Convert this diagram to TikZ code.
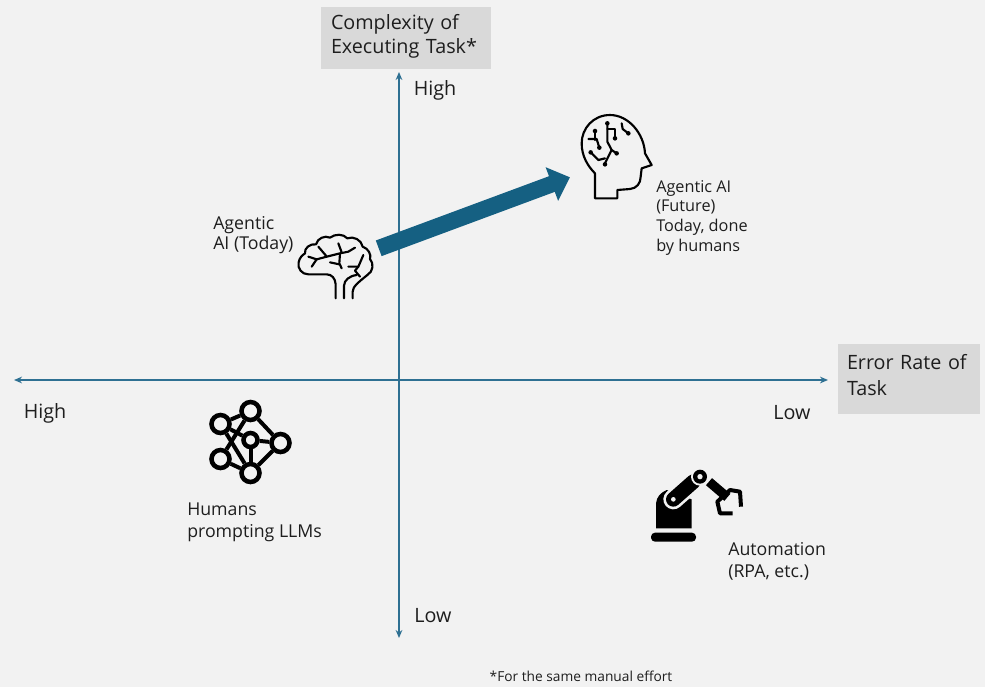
\documentclass[tikz,border=0pt]{standalone}
\usepackage{fontspec}
\setmainfont{Open Sans}
\usetikzlibrary{arrows.meta}
\definecolor{pagegrey}{RGB}{242,242,242}
\definecolor{labelgrey}{RGB}{217,217,217}
\definecolor{axisblue}{RGB}{46,112,146}
\definecolor{arrowblue}{RGB}{21,96,130}
\definecolor{textgrey}{RGB}{30,30,30}
\tikzset{
	axisline/.style={draw=axisblue, line width=1.5pt, {Stealth[length=6pt,width=5pt]}-{Stealth[length=6pt,width=5pt]}},
	axislabel/.style={fill=labelgrey, text=textgrey, align=left, inner sep=0pt},
	ticklabel/.style={text=textgrey, font=\fontsize{14.8}{16}\selectfont, inner sep=0pt},
	iconlabel/.style={text=textgrey, align=left, inner sep=0pt, anchor=north west},
	iconline/.style={line width=1.6pt, black, line cap=round, line join=round},
	tracedot/.style={circle, fill=black, inner sep=0pt, minimum size=3.4pt},
	netdot/.style={circle, draw=black, fill=pagegrey, line width=3.4pt, inner sep=0pt},
}
\begin{document}
\begin{tikzpicture}[x=0.75pt, y=-0.75pt]
	\useasboundingbox[fill=pagegrey] (0,0) rectangle (985,687);

	% axes
	\coordinate (axisLeft) at (14,380);
	\coordinate (axisRight) at (828,380);
	\coordinate (axisTop) at (399,72);
	\coordinate (axisBottom) at (399,638);
	\draw[axisline] (axisLeft) -- (axisRight);
	\draw[axisline] (axisTop) -- (axisBottom);

	% axis labels
	\node (complexityLabel) at (406,38) [axislabel, minimum width=127.5pt, minimum height=46.5pt, text width=112.5pt, font=\fontsize{14.8}{18}\selectfont] {Complexity of\\Executing Task*\rule[-6pt]{0pt}{1pt}};
	\node (errorLabel) at (909,379) [axislabel, minimum width=107pt, minimum height=52pt, text width=93pt, font=\fontsize{14.8}{19.5}\selectfont] {Error Rate of\\Task\rule[-6pt]{0pt}{1pt}};
	\node (yHigh) at (435,90) [ticklabel] {High};
	\node (yLow) at (433,616) [ticklabel] {Low};
	\node (xHigh) at (45,413) [ticklabel] {High};
	\node (xLow) at (792,413) [ticklabel] {Low};

	% icon labels
	\node (todayLabel) at (213,216) [iconlabel, font=\fontsize{13.3}{15.5}\selectfont] {Agentic\\AI (Today)};
	\node (futureLabel) at (656,180) [iconlabel, font=\fontsize{12.2}{14.8}\selectfont] {Agentic AI\\(Future)\\Today, done\\by humans};
	\node (humansLabel) at (187,503) [iconlabel, font=\fontsize{13.3}{16}\selectfont] {Humans\\prompting LLMs};
	\node (autoLabel) at (728,542) [iconlabel, font=\fontsize{13.3}{17}\selectfont] {Automation\\(RPA, etc.)};
	\node (noteLabel) at (581,676) [text=textgrey, inner sep=0pt, font=\fontsize{10.3}{12}\selectfont] {*For the same manual effort};

	% brain
	\begin{scope}[shift={(290,225)}, scale=1/3]
		\draw[iconline] (137,220) -- (137,178) .. controls (136,160) and (125,148) .. (110,148)
			-- (55,148) .. controls (35,148) and (22,130) .. (26,112)
			.. controls (28,98) and (38,90) .. (45,85) .. controls (42,70) and (60,55) .. (78,58)
			.. controls (82,40) and (105,30) .. (120,38) .. controls (135,26) and (160,26) .. (172,40)
			.. controls (190,32) and (215,45) .. (218,65) .. controls (235,70) and (245,90) .. (240,102)
			.. controls (252,115) and (250,140) .. (232,150);
		\draw[iconline] (162,220) -- (162,182) .. controls (163,165) and (178,153) .. (200,150);
		\draw[iconline] (188,220) -- (188,200) .. controls (188,185) and (205,172) .. (232,150);
		\draw[iconline] (55,95) -- (80,103) -- (110,95) -- (150,85) -- (175,80) -- (195,68);
		\draw[iconline] (85,65) -- (108,92);
		\draw[iconline] (65,125) -- (80,103);
		\draw[iconline] (145,55) -- (155,82);
		\draw[iconline] (150,85) -- (148,115) -- (155,130);
		\draw[iconline] (120,112) -- (148,118);
		\draw[iconline] (175,125) -- (205,125) -- (220,90);
		\draw[iconline] (205,125) -- (195,137) -- (210,155);
	\end{scope}

	% head with circuit
	\begin{scope}[shift={(570,105)}, scale=1/3]
		\draw[iconline] (75,205) -- (75,280) -- (142,280) -- (142,255) -- (180,252)
			.. controls (200,250) and (212,235) .. (212,215) -- (215,190) -- (245,180)
			-- (225,145) .. controls (222,85) and (175,30) .. (120,30)
			.. controls (70,30) and (35,70) .. (35,115) .. controls (35,155) and (55,185) .. (75,205);
		\draw[iconline] (75,75) -- (75,105);
		\draw[iconline] (55,102) -- (80,102) -- (88,128);
		\draw[iconline] (112,55) -- (112,110) -- (125,135) -- (140,145);
		\draw[iconline] (112,72) -- (135,72) -- (135,100);
		\draw[iconline] (125,135) -- (105,175);
		\draw[iconline] (62,142) -- (85,165) -- (105,160);
		\draw[iconline] (155,55) -- (158,72) -- (175,85);
		\foreach \dotx/\doty in {75/78, 88/128, 112/55, 135/100, 140/145, 105/178, 62/142, 175/85}
			\node at (\dotx,\doty) [tracedot] {};
	\end{scope}

	% move to the future
	\coordinate (brainEnd) at (378.7,248.3);
	\coordinate (headEnd) at (570,177.3);
	\draw[arrowblue, line width=12.5pt, -{Triangle[length=14.5pt,width=26pt]}] (brainEnd) -- (headEnd);

	% network
	\node (netA) at (220.5,424) [netdot, minimum size=13.5pt] {};
	\node (netB) at (250.5,411) [netdot, minimum size=13.5pt] {};
	\node (netC) at (280.5,443) [netdot, minimum size=13.5pt] {};
	\node (netD) at (250.5,473) [netdot, minimum size=13.5pt] {};
	\node (netE) at (220.5,459) [netdot, minimum size=13.5pt] {};
	\node (netF) at (250.5,440) [netdot, minimum size=10.5pt] {};
	\foreach \from/\to in {netA/netB, netB/netC, netC/netD, netD/netE, netA/netD, netB/netE, netF/netD, netF/netC, netA/netF}
		\draw[black, line width=3pt] (\from) -- (\to);

	% robot
	\begin{scope}[shift={(640,460)}, scale=1/3]
		\fill[black, rounded corners=3pt] (33,218) rectangle (168,245);
		\fill[black] (48,205) -- (48,130) .. controls (50,110) and (62,98) .. (80,90)
			-- (155,118) -- (155,205) -- cycle;
		\draw[pagegrey, line width=15pt, line cap=round] (100,118) -- (160,65);
		\draw[black, line width=11pt, line cap=round] (100,118) -- (160,65);
		\fill[pagegrey] (100,118) circle (7);
		\fill[pagegrey] (180,50) circle (27);
		\fill[black] (180,50) circle (21);
		\fill[pagegrey] (180,50) circle (8);
		\draw[black, line width=7pt] (207,65) -- (262,112);
		\draw[black, line width=3pt, line join=round] (303,140) -- (300,95) -- (270,90) -- (232,125) -- (240,160) -- (278,160);
	\end{scope}
\end{tikzpicture}
\end{document}
